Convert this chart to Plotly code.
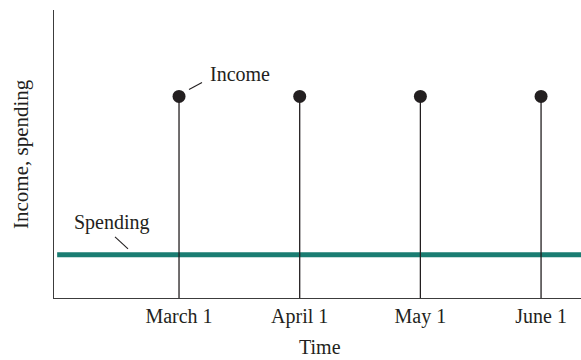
import plotly.graph_objects as go

# Data
months = ["March 1", "April 1", "May 1", "June 1"]
month_pos = [0, 1, 2, 3]
income = [7, 7, 7, 7]
spending_level = 1.5

FONT = "Liberation Serif"
INK = "#231f20"
AXIS = "#3c3c3c"
TEAL = "#1a7d72"
FS = 20

fig = go.Figure()

# Income stems from the time axis up to each payment
stem_x, stem_y = [], []
for x, v in zip(month_pos, income):
    stem_x += [x, x, None]
    stem_y += [0, v, None]
fig.add_trace(go.Scatter(x=stem_x, y=stem_y, mode="lines",
                         line=dict(color=INK, width=1.3), hoverinfo="skip"))

# Income payments
fig.add_trace(go.Scatter(x=month_pos, y=income, mode="markers",
                         marker=dict(color=INK, size=13), hoverinfo="skip"))

# Constant spending level
fig.add_shape(type="line", xref="x domain", yref="y", x0=0.006, x1=1,
              y0=spending_level, y1=spending_level,
              line=dict(color=TEAL, width=5), layer="below")

# Leader lines for the labels
fig.add_shape(type="line", xref="x", yref="y", xsizemode="pixel", ysizemode="pixel",
              xanchor=month_pos[0], yanchor=income[0],
              x0=10, y0=7, x1=23, y1=14, line=dict(color=INK, width=1.1))
fig.add_shape(type="line", xref="x", yref="y", xsizemode="pixel", ysizemode="pixel",
              xanchor=month_pos[0], yanchor=spending_level,
              x0=-64, y0=18, x1=-51, y1=6, line=dict(color=INK, width=1.1))

fig.add_annotation(x=month_pos[0], y=income[0], text="Income", showarrow=False,
                   xanchor="left", yanchor="middle", xshift=29, yshift=22,
                   font=dict(family=FONT, size=FS, color=INK))
fig.add_annotation(x=month_pos[0], y=spending_level, text="Spending", showarrow=False,
                   xanchor="left", yanchor="middle", xshift=-107, yshift=32,
                   font=dict(family=FONT, size=FS, color=INK))

# Axis titles
fig.add_annotation(xref="paper", yref="paper", x=0.505, y=0, yshift=-62,
                   text="Time", showarrow=False, xanchor="center", yanchor="bottom",
                   font=dict(family=FONT, size=FS, color=INK))
fig.add_annotation(xref="paper", yref="paper", x=0, y=0.5, xshift=-33, yshift=0,
                   text="Income, spending", showarrow=False, textangle=-90,
                   xanchor="center", yanchor="middle",
                   font=dict(family=FONT, size=FS + 1, color=INK))

fig.update_xaxes(range=[-1.036, 3.331], tickvals=month_pos, ticktext=months,
                 showgrid=False, zeroline=False, showline=True, linecolor=AXIS,
                 linewidth=1.3, ticks="", tickfont=dict(family=FONT, size=FS, color=INK))
fig.update_yaxes(range=[0, 10], showticklabels=False, showgrid=False, zeroline=False,
                 showline=True, linecolor=AXIS, linewidth=1.3, ticks="")

fig.update_layout(width=581, height=360, showlegend=False,
                  margin=dict(l=54, r=0, t=10, b=62),
                  paper_bgcolor="white", plot_bgcolor="white")

fig.write_html("out.html")
